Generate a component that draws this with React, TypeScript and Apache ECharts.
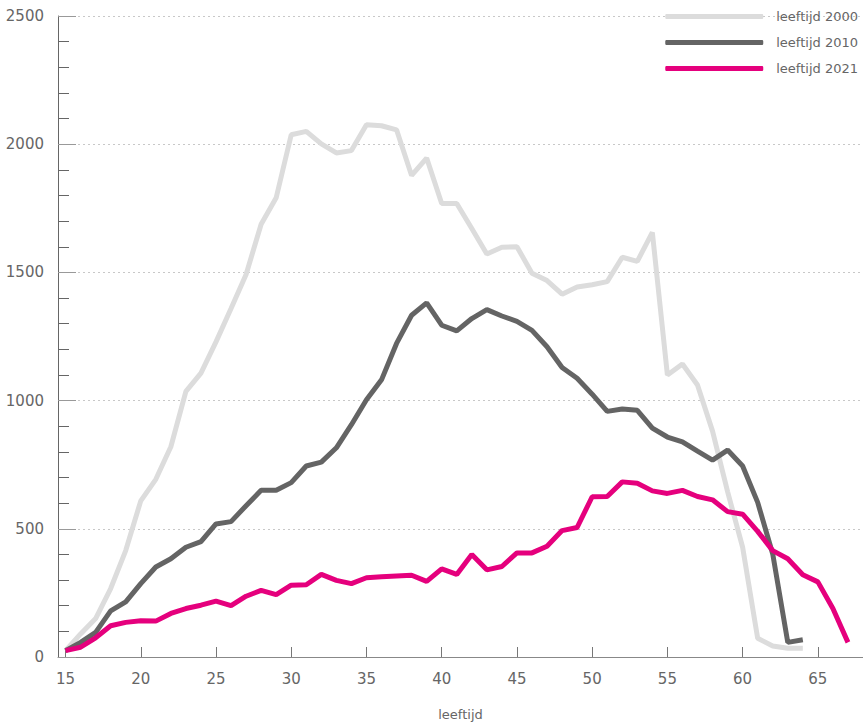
import React, { useEffect, useRef } from "react";
import * as echarts from "echarts";

const ages2000: number[] = Array.from({ length: 50 }, (_, i) => 15 + i);
const ages2021: number[] = Array.from({ length: 53 }, (_, i) => 15 + i);

const values2000: number[] = [
  25, 90, 150, 267, 415, 609, 693, 820, 1036, 1107,
  1229, 1359, 1492, 1688, 1791, 2037, 2050, 2001, 1966, 1975,
  2076, 2072, 2056, 1878, 1946, 1769, 1769, 1671, 1572, 1598,
  1600, 1497, 1468, 1415, 1443, 1452, 1464, 1559, 1543, 1656,
  1100, 1143, 1061, 881, 645, 428, 73, 43, 34, 34,
];

const values2010: number[] = [
  25, 57, 96, 180, 215, 286, 351, 383, 428, 450,
  519, 528, 590, 650, 650, 680, 745, 760, 816, 906,
  1003, 1081, 1223, 1333, 1381, 1294, 1272, 1320, 1355, 1330,
  1309, 1274, 1210, 1129, 1087, 1025, 958, 967, 962, 893,
  858, 839, 803, 768, 807, 745, 603, 402, 57, 67,
];

const values2021: number[] = [
  25, 38, 75, 122, 135, 141, 140, 170, 189, 202,
  218, 200, 237, 260, 243, 280, 282, 322, 299, 286,
  309, 313, 316, 319, 295, 344, 322, 400, 340, 353,
  406, 406, 432, 493, 505, 625, 626, 683, 678, 648,
  638, 650, 626, 613, 567, 557, 490, 415, 383, 321,
  293, 189, 57,
];

const seriesNames: string[] = ["leeftijd 2000", "leeftijd 2010", "leeftijd 2021"];
const xTickValues: number[] = [15, 20, 25, 30, 35, 40, 45, 50, 55, 60, 65];

const FONT = "DejaVu Sans, Verdana, sans-serif";

export default function App() {
  const ref = useRef<HTMLDivElement>(null);

  useEffect(() => {
    if (!ref.current) return;
    const chart = echarts.init(ref.current, null, { renderer: "svg" });
    const pair = (ages: number[], vals: number[]) => vals.map((v, i) => [ages[i], v]);
    chart.setOption({
      animation: false,
      textStyle: { fontFamily: FONT },
      grid: { left: 58, right: 0, top: 16, bottom: 65.5, containLabel: false },
      legend: {
        orient: "vertical",
        right: 0,
        top: 5,
        icon: "roundRect",
        itemWidth: 98,
        itemHeight: 5,
        itemGap: 13,
        selectedMode: false,
        textStyle: { fontSize: 13, color: "#666", fontFamily: FONT, padding: [0, 0, 0, 8] },
        data: seriesNames,
      },
      xAxis: {
        type: "value",
        min: 14.5,
        max: 68,
        name: "leeftijd",
        nameLocation: "middle",
        nameGap: 51,
        nameTextStyle: { fontSize: 13, color: "#666", fontFamily: FONT },
        axisLine: { show: true, lineStyle: { color: "#888", width: 1 } },
        axisTick: {
          show: true,
          inside: true,
          length: 10,
          customValues: xTickValues,
          lineStyle: { color: "#777" },
        },
        axisLabel: {
          customValues: xTickValues,
          margin: 14,
          fontSize: 15,
          color: "#666",
          fontFamily: FONT,
        },
        splitLine: { show: false },
      },
      yAxis: {
        type: "value",
        min: 0,
        max: 2500,
        interval: 500,
        axisLine: { show: true, lineStyle: { color: "#666", width: 1 } },
        axisTick: { show: true, inside: true, length: 18, lineStyle: { color: "#999" } },
        minorTick: { show: true, splitNumber: 5, length: 11, lineStyle: { color: "#666" } },
        axisLabel: {
          margin: 14,
          fontSize: 15,
          color: "#666",
          fontFamily: FONT,
          formatter: (v: number) => String(v),
        },
        splitLine: { show: true, lineStyle: { color: "#c8c8c8", type: [2, 3], width: 1 } },
      },
      series: [
        {
          name: seriesNames[0],
          type: "line",
          data: pair(ages2000, values2000),
          showSymbol: false,
          symbol: "none",
          color: "#dcdcdc",
          lineStyle: { width: 5, color: "#dcdcdc" },
        },
        {
          name: seriesNames[1],
          type: "line",
          data: pair(ages2000, values2010),
          showSymbol: false,
          symbol: "none",
          color: "#646464",
          lineStyle: { width: 5, color: "#646464" },
        },
        {
          name: seriesNames[2],
          type: "line",
          data: pair(ages2021, values2021),
          showSymbol: false,
          symbol: "none",
          color: "#e5007d",
          lineStyle: { width: 5, color: "#e5007d" },
        },
      ],
    });
    return () => chart.dispose();
  }, []);

  return <div ref={ref} style={{ width: 863, height: 726, position: "absolute", left: 0, top: 0 }} />;
}
